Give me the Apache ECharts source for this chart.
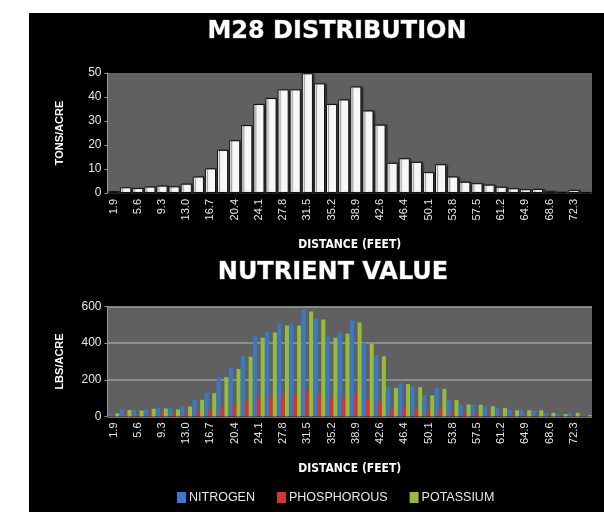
<!DOCTYPE html>
<html>
<head>
<meta charset="utf-8">
<script src="https://cdn.jsdelivr.net/npm/echarts@6/dist/echarts.min.js"></script>
<style>
html,body{margin:0;padding:0;background:#fff;}
#c{width:604px;height:512px;}
</style>
</head>
<body>
<div id="c"></div>
<script>
var categories = ['1.9','3.7','5.6','7.4','9.3','11.1','13.0','14.8','16.7','18.5','20.4','22.2','24.1','25.9','27.8','29.6','31.5','33.3','35.2','37.0','38.9','40.7','42.6','44.5','46.4','48.2','50.1','51.9','53.8','55.6','57.5','59.3','61.2','63.0','64.9','66.7','68.6','70.4','72.3','74.1'];
var tonsPerAcre = [0.8,2.4,2.1,2.7,3.1,2.8,3.9,6.9,10.3,18.0,22.0,28.3,37.1,39.6,43.2,43.2,49.9,45.7,37.1,39.0,44.4,34.4,28.5,12.6,14.5,13.0,8.7,12.0,6.9,4.7,4.1,3.5,2.6,2.0,1.6,1.7,0.9,0.5,1.3,0.4];
var nitrogen = [17,39,36,39,47,44,58,91,127,215,264,332,436,463,507,507,584,534,436,458,523,402,333,160,182,164,116,155,90,66,64,56,47,40,34,34,20,13,20,8];
var phosphorous = [8,17,14,17,17,17,17,25,36,58,67,85,107,110,121,121,140,127,107,110,123,96,79,40,45,40,29,40,22,18,18,12,11,9,7,7,5,4,5,3];
var potassium = [17,36,33,42,44,39,55,91,127,215,259,326,430,458,496,496,573,529,430,452,513,399,328,155,177,160,115,150,89,65,64,56,47,34,34,34,20,13,20,8];
var topTicks = {min:0, max:50, interval:10};
var bottomTicks = {min:0, max:600, interval:200};

var chart = echarts.init(document.getElementById('c'), null, {renderer:'canvas'});
var lblColor = '#e6e6e6';
var titleStyle = {color:'#fff', fontFamily:'DejaVu Sans', fontWeight:'bold', fontSize:24, textBorderColor:'#555', textBorderWidth:1};
var nameStyleY = {color:'#fff', fontFamily:'Liberation Sans', fontWeight:'bold', fontSize:11};
var nameStyleX = {color:'#fff', fontFamily:'DejaVu Sans Condensed, Liberation Sans', fontWeight:'bold', fontSize:12};

function xAxis(gi){
  return {
    type:'category', gridIndex:gi, data:categories,
    axisLine:{show:true, lineStyle:{color:'#222'}},
    axisTick:{show:false},
    axisLabel:{interval:1, rotate:90, color:lblColor, fontFamily:'Liberation Sans', fontSize:11, margin:6},
    name:'DISTANCE (FEET)', nameLocation:'middle', nameGap:46, nameTextStyle:nameStyleX
  };
}
function yAxis(gi, t, name){
  return {
    type:'value', gridIndex:gi, min:t.min, max:t.max, interval:t.interval,
    axisLine:{show:true, lineStyle:{color:'#9a9a9a'}},
    axisTick:{show:true, length:3, lineStyle:{color:'#9a9a9a'}},
    axisLabel:{color:lblColor, fontFamily:'Liberation Sans', fontSize:12, margin:6},
    splitLine:{show: gi===1, lineStyle:{color:'#9c9c9c', width:1.5}},
    name:name, nameLocation:'middle', nameGap:42, nameRotate:90, nameTextStyle:nameStyleY
  };
}

chart.setOption({
  animation:false,
  backgroundColor:'#fff',
  graphic:[{type:'rect', shape:{x:29, y:13, width:575, height:499}, style:{fill:'#000'}, z:-10, silent:true}],
  title:[
    {text:'M28 DISTRIBUTION', top:15, textStyle:titleStyle, textAlign:'center', left:332},
    {text:'NUTRIENT VALUE', top:256, textStyle:titleStyle, textAlign:'center', left:328}
  ],
  legend:{
    data:['NITROGEN','PHOSPHOROUS','POTASSIUM'],
    left:172, top:486, itemWidth:9, itemHeight:11, itemGap:22,
    icon:'rect',
    textStyle:{color:'#e6e6e6', fontFamily:'Liberation Sans', fontSize:12.5, padding:[0,0,0,-2]}
  },
  grid:[
    {left:107.5, right:12, top:73, height:120, show:true, backgroundColor:'#606060', borderWidth:0, containLabel:false},
    {left:107.5, right:12, top:306.5, height:110, show:true, backgroundColor:'#606060', borderWidth:0, containLabel:false}
  ],
  xAxis:[xAxis(0), xAxis(1)],
  yAxis:[yAxis(0, topTicks, 'TONS/ACRE'), yAxis(1, bottomTicks, 'LBS/ACRE')],
  series:[
    {name:'M28', type:'bar', xAxisIndex:0, yAxisIndex:0, data:tonsPerAcre, barCategoryGap:'8%',
     itemStyle:{color:'#f7f7f7', borderColor:'#111', borderWidth:1, shadowColor:'rgba(0,0,0,0.45)', shadowOffsetX:2, shadowOffsetY:0, shadowBlur:1}},
    {name:'NITROGEN', type:'bar', xAxisIndex:1, yAxisIndex:1, data:nitrogen, barGap:'-5%', barCategoryGap:'4%',
     itemStyle:{color:'#3b78c8'}},
    {name:'PHOSPHOROUS', type:'bar', xAxisIndex:1, yAxisIndex:1, data:phosphorous, barGap:'-5%', barCategoryGap:'4%',
     itemStyle:{color:'#d0382f'}},
    {name:'POTASSIUM', type:'bar', xAxisIndex:1, yAxisIndex:1, data:potassium, barGap:'-5%', barCategoryGap:'4%',
     itemStyle:{color:'#95bc3c'}}
  ]
});
</script>
</body>
</html>
